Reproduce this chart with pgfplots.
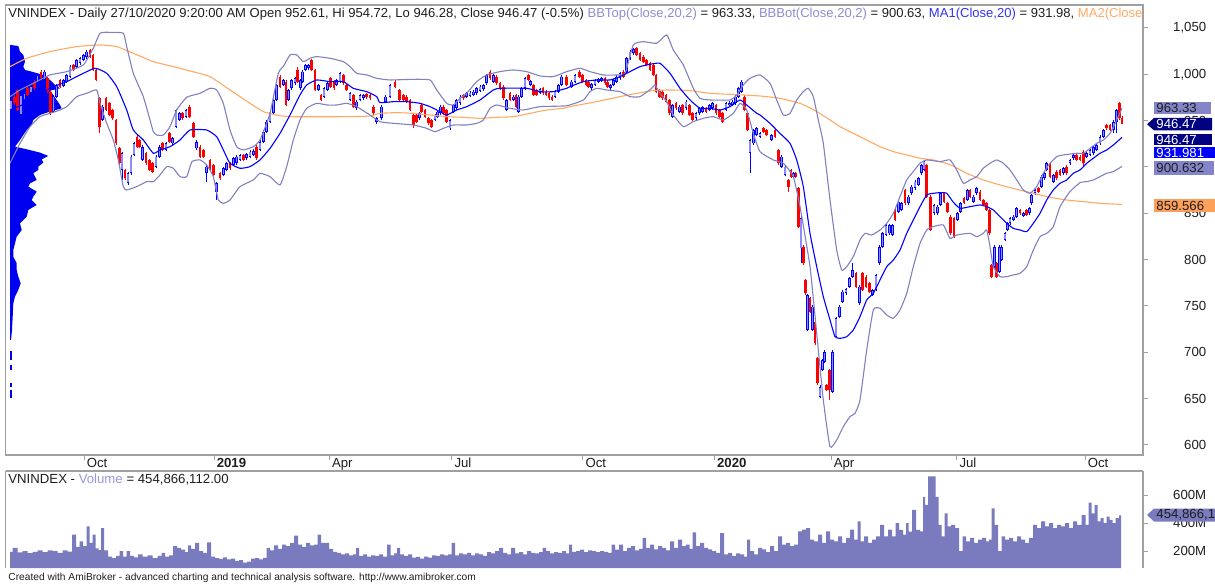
\documentclass[border=0pt]{standalone}
\usepackage{pgfplots}
\pgfplotsset{compat=1.18}
\usepackage{pgfplotstable}
\usepackage{fontspec}
\setmainfont{Liberation Sans}
\definecolor{cred}{RGB}{255,0,0}
\definecolor{cblue}{RGB}{0,0,255}
\definecolor{cfill}{RGB}{140,140,255}
\definecolor{bbcol}{RGB}{128,128,192}
\definecolor{bbtxt}{RGB}{140,140,210}
\definecolor{macol}{RGB}{0,0,255}
\definecolor{matxt}{RGB}{50,50,240}
\definecolor{ma2col}{RGB}{255,170,100}
\definecolor{volcol}{RGB}{122,122,190}
\definecolor{voltxt}{RGB}{150,150,220}
\definecolor{profcol}{RGB}{0,0,240}
\definecolor{framec}{RGB}{160,160,160}
\definecolor{txt}{RGB}{30,30,30}
\definecolor{navyb}{RGB}{0,0,128}
\definecolor{lavb}{RGB}{132,132,200}
\definecolor{orab}{RGB}{255,160,90}
\newcommand{\fs}{\fontsize{6.6pt}{7.5pt}\selectfont}
\newcommand{\fh}{\fontsize{6.52pt}{7.5pt}\selectfont}

% candles: x, body bottom, body top, low, high
\pgfplotstableread{
x bt tp lo hi
11.0 961.5 972.3 960.0 973.8
21.0 956.1 977.7 954.6 979.2
24.3 972.3 979.5 970.8 981.0
31.0 979.5 986.7 978.0 988.2
37.7 990.3 999.3 988.8 1000.8
44.3 993.9 1002.9 992.4 1004.4
53.7 959.7 975.9 958.2 977.4
56.7 975.9 988.5 974.4 990.0
63.3 987.4 993.9 985.9 995.4
66.7 992.1 999.3 990.6 1000.8
70.0 997.5 1008.3 996.0 1009.8
76.7 1008.3 1015.5 1006.8 1017.0
80.0 1011.9 1017.3 1010.4 1018.8
83.3 1015.5 1020.9 1014.0 1022.4
86.7 1018.4 1024.5 1016.9 1026.0
102.7 950.7 965.1 949.2 966.6
122.0 896.8 914.8 886.0 916.3
128.0 882.4 893.2 880.6 894.7
131.0 893.2 911.2 891.7 912.7
134.0 913.0 925.5 911.5 927.0
142.7 907.6 921.9 906.1 923.4
156.0 900.4 911.2 898.9 912.7
159.3 911.2 921.9 909.7 923.4
166.0 918.4 925.5 916.9 927.0
172.7 925.5 930.9 924.0 932.4
176.0 943.5 961.5 942.0 963.0
179.3 950.7 957.9 949.2 959.4
186.0 954.3 961.5 952.8 963.0
196.7 920.1 927.3 918.6 928.8
206.7 893.2 900.4 884.2 901.9
216.7 873.4 882.4 864.4 883.9
223.3 891.4 898.6 889.9 900.1
226.7 896.8 904.0 895.3 905.5
233.3 902.2 909.4 900.7 910.9
236.7 904.0 911.2 902.5 912.7
240.0 907.6 913.0 906.1 914.5
246.7 909.4 914.0 907.9 915.5
250.0 911.2 916.6 909.7 918.1
253.3 913.0 917.6 911.5 919.1
260.0 918.4 927.3 916.9 928.8
263.3 927.3 938.1 925.8 939.6
266.7 938.1 948.9 936.6 950.4
270.0 948.9 959.7 947.4 961.2
273.3 957.9 972.3 956.4 973.8
276.7 972.3 988.5 970.8 990.0
283.3 988.5 993.9 987.0 995.4
288.7 972.3 983.1 970.8 984.6
291.7 984.9 993.9 983.4 995.4
295.0 990.3 995.7 988.8 997.2
300.3 984.9 993.9 983.4 995.4
302.7 992.1 1002.9 990.6 1004.4
305.3 1004.7 1010.1 1003.2 1011.6
308.3 1006.5 1010.1 1005.0 1011.6
318.3 983.1 988.5 981.6 990.0
324.0 975.9 984.9 974.4 986.4
327.3 983.1 990.3 981.6 991.8
336.7 988.5 993.9 987.0 995.4
340.0 992.1 1001.1 990.6 1002.6
350.0 972.3 979.5 970.8 981.0
356.7 963.3 970.5 961.8 972.0
360.0 972.3 977.7 970.8 979.2
363.3 974.1 977.7 972.6 979.2
376.7 948.9 952.5 946.5 954.0
381.7 952.5 965.1 951.0 966.6
385.7 970.5 975.9 969.0 977.4
390.0 975.9 988.5 974.4 990.0
419.3 952.5 957.9 951.0 959.4
435.0 950.7 956.1 949.2 957.6
437.7 954.3 959.7 952.8 961.2
440.3 957.9 965.1 956.4 966.6
450.0 941.7 950.7 940.2 952.2
453.3 959.7 966.9 958.2 968.4
456.7 963.3 972.3 961.8 973.8
460.0 968.7 975.9 967.2 977.4
466.7 975.9 979.5 974.4 981.0
470.0 976.6 980.2 975.1 981.7
473.3 977.7 981.3 976.2 982.8
476.7 979.5 984.9 978.0 986.4
480.0 982.4 986.7 980.9 988.2
483.3 983.8 988.5 982.3 990.0
486.7 990.3 999.3 988.8 1000.8
493.3 992.1 999.3 990.6 1000.8
506.7 961.5 972.3 960.0 973.8
513.3 972.3 975.9 970.8 977.4
518.7 959.7 975.9 958.2 977.4
521.7 975.9 984.9 974.4 986.4
525.0 984.9 995.7 983.4 997.2
530.8 988.5 992.8 987.0 994.3
540.0 980.2 983.8 978.7 985.3
555.0 975.9 981.3 974.4 982.8
558.3 981.3 988.5 979.8 990.0
561.7 988.5 997.5 987.0 999.0
571.7 986.7 992.1 985.2 993.6
575.0 992.1 999.3 990.6 1000.8
591.7 984.9 989.6 983.4 991.1
595.0 988.5 993.9 987.0 995.4
598.3 992.1 995.0 990.6 996.5
601.7 992.8 995.7 991.3 997.2
610.3 984.9 988.5 983.4 990.0
613.3 988.5 993.9 987.0 995.4
616.7 992.1 997.5 990.6 999.0
620.0 995.7 1001.1 994.2 1002.6
626.7 1002.9 1017.3 1001.4 1018.8
630.0 1017.3 1024.5 1015.8 1026.0
633.3 1022.7 1027.0 1021.2 1028.5
672.7 954.3 966.9 952.8 968.4
679.3 959.7 965.1 958.2 966.6
686.0 963.3 970.5 961.8 972.0
696.0 952.5 957.9 951.0 959.4
699.3 957.9 963.3 956.4 964.8
702.7 959.7 964.4 958.2 965.9
709.3 961.5 966.9 960.0 968.4
712.7 963.3 968.7 961.8 970.2
726.0 961.5 968.7 960.0 970.2
729.3 966.5 969.4 965.0 970.9
732.7 966.9 970.5 965.4 972.0
735.7 968.7 975.9 967.2 977.4
738.7 975.9 984.9 974.4 986.4
741.7 981.3 992.1 979.8 993.6
750.0 914.8 929.1 893.2 930.6
753.3 925.5 939.9 924.0 941.4
756.7 934.5 941.7 933.0 943.2
760.0 932.7 936.3 931.2 937.8
771.7 929.1 934.5 927.6 936.0
781.7 900.4 911.2 898.9 912.7
785.0 891.4 900.4 889.9 901.9
793.3 889.6 893.2 888.1 894.7
801.0 812.2 844.6 796.1 846.1
807.7 724.1 761.9 722.6 763.4
812.3 724.1 749.3 722.6 750.8
820.0 652.1 662.9 650.3 664.4
822.7 680.9 691.7 679.4 693.2
824.7 689.9 700.7 688.4 702.2
832.7 657.5 700.7 656.0 702.2
836.0 716.9 736.7 715.4 738.2
839.3 738.5 749.3 737.0 750.8
842.7 754.7 765.5 753.2 767.0
846.0 763.7 768.0 762.2 769.5
849.3 770.9 779.9 769.4 781.4
852.7 781.7 788.8 780.2 796.1
859.3 752.9 770.9 751.4 772.4
872.7 761.9 767.3 760.4 768.8
876.0 767.3 783.5 765.8 785.0
879.3 796.1 814.0 794.6 815.5
882.7 814.0 828.4 812.5 829.9
886.0 826.6 837.4 825.1 838.9
889.3 828.4 837.4 826.9 838.9
892.7 826.6 837.4 825.1 838.9
898.3 851.8 862.6 850.3 864.1
901.7 853.6 860.8 852.1 862.3
908.3 860.8 868.0 859.3 869.5
911.7 871.6 878.8 870.1 880.3
915.0 877.0 884.2 875.5 885.7
918.3 880.6 887.8 879.1 889.3
921.7 893.2 902.2 891.7 903.7
924.0 896.8 905.8 895.3 907.3
934.0 850.0 859.0 848.5 860.5
937.3 850.0 857.2 848.5 858.7
940.7 859.0 871.6 857.5 873.1
957.3 842.8 850.0 841.3 851.5
960.7 851.8 860.8 850.3 862.3
967.3 864.4 875.2 862.9 876.7
973.3 862.6 868.0 861.1 869.5
976.7 871.6 877.0 870.1 878.5
994.3 792.4 814.0 790.9 815.5
999.3 787.1 814.0 785.6 815.5
1001.7 799.6 814.0 798.1 815.5
1005.0 821.2 828.4 819.7 829.9
1007.3 832.0 839.2 830.5 840.7
1010.0 839.2 844.6 837.7 846.1
1013.3 842.8 846.4 841.3 847.9
1016.7 846.4 855.4 844.9 856.9
1023.3 847.1 850.0 845.6 851.5
1029.3 850.0 855.4 848.5 856.9
1031.7 860.8 869.8 859.3 871.3
1035.0 871.6 875.2 870.1 876.7
1041.7 878.8 889.6 877.3 891.1
1044.3 887.8 893.2 886.3 894.7
1046.7 896.8 904.0 895.3 905.5
1053.3 884.2 891.4 882.7 892.9
1063.3 893.2 898.6 891.7 900.1
1070.0 904.0 907.6 902.5 909.1
1073.3 909.4 913.0 907.9 914.5
1086.7 911.2 914.8 909.7 916.3
1090.0 913.0 918.4 911.5 919.9
1093.3 914.8 921.9 913.3 923.4
1096.7 918.4 923.7 916.9 925.2
1100.0 925.5 932.7 924.0 934.2
1103.3 932.7 939.9 931.2 941.4
1113.3 939.9 948.9 936.3 950.4
1116.7 948.9 961.5 936.3 963.0
}\upc

\pgfplotstableread{
x bt tp lo hi
14.3 968.7 975.9 967.2 977.4
17.7 961.5 983.1 960.0 984.6
27.7 977.7 984.9 976.2 986.4
34.3 984.9 992.1 983.4 993.6
41.0 995.7 1002.9 994.2 1004.4
47.7 981.3 995.7 979.8 997.2
50.7 957.9 981.3 956.4 982.8
60.0 986.7 993.9 985.2 995.4
73.3 1004.7 1010.1 1003.2 1011.6
90.0 1019.1 1026.3 1017.6 1027.8
93.0 1004.7 1020.9 1003.2 1022.4
96.0 993.9 1004.7 992.4 1006.2
99.3 943.5 974.1 936.3 975.6
106.0 961.5 974.1 960.0 975.6
109.3 956.1 968.7 954.6 970.2
112.7 952.5 961.5 951.0 963.0
116.0 925.5 950.7 924.0 952.2
119.3 904.0 920.1 902.5 921.6
125.0 887.8 896.8 886.3 898.3
137.0 921.9 932.7 920.4 934.2
139.7 921.9 929.1 920.4 930.6
146.0 904.0 914.8 902.5 916.3
149.3 896.8 907.6 895.3 909.1
152.7 895.0 904.0 893.5 905.5
162.7 918.4 925.5 916.9 927.0
169.3 927.3 936.3 925.8 937.8
182.7 952.5 957.9 951.0 959.4
189.3 954.3 965.1 952.8 966.6
193.3 932.7 947.1 931.2 948.6
200.0 911.2 921.9 909.7 923.4
203.3 911.2 918.4 909.7 919.9
210.0 896.8 907.6 895.3 909.1
213.3 891.4 902.2 889.9 903.7
220.0 887.8 893.2 886.3 894.7
230.0 898.6 904.0 897.1 905.5
243.3 907.6 913.0 906.1 914.5
256.7 909.4 921.9 907.9 923.4
280.0 986.7 997.5 985.2 999.0
286.0 966.9 992.1 965.4 993.6
297.7 992.1 1004.7 990.6 1008.3
311.7 1004.7 1015.5 1003.2 1017.0
315.0 983.1 1004.7 981.6 1006.2
321.0 972.3 977.7 970.8 979.2
330.7 986.7 995.7 985.2 997.2
334.0 984.9 992.1 983.4 993.6
343.3 990.3 999.3 988.8 1000.8
346.7 983.1 988.5 981.6 990.0
353.3 965.1 977.7 963.6 979.2
366.7 975.2 978.8 973.7 980.3
370.0 974.1 977.7 972.6 979.2
373.3 957.9 965.1 956.4 966.6
395.0 986.7 992.1 985.2 993.6
399.3 972.3 983.1 970.8 984.6
403.3 972.3 977.7 970.8 979.2
406.7 970.5 975.9 969.0 977.4
410.0 961.5 972.3 960.0 973.8
413.3 945.3 956.1 941.7 957.6
416.7 948.9 956.1 947.4 957.6
421.7 959.7 966.9 958.2 968.4
425.0 954.3 961.5 952.8 963.0
428.3 947.1 952.5 945.6 954.0
431.7 943.5 950.7 942.0 952.2
443.3 957.9 965.1 956.4 966.6
446.7 948.9 961.5 947.4 963.0
463.3 974.1 977.7 972.6 979.2
490.0 995.7 1002.9 994.2 1004.4
496.7 990.3 997.5 988.8 999.0
500.0 984.9 990.3 983.4 991.8
503.3 974.1 986.7 972.6 988.2
510.0 972.3 979.5 970.8 981.0
516.0 965.1 977.7 963.6 979.2
528.3 993.9 999.3 992.4 1000.8
533.3 977.7 988.5 976.2 990.0
536.7 977.7 983.1 976.2 984.6
543.0 979.5 984.9 978.0 986.4
546.0 977.7 981.3 976.2 982.8
549.0 974.1 979.5 972.6 981.0
552.0 972.3 975.9 970.8 977.4
566.7 988.5 997.5 987.0 999.0
579.3 997.5 1002.9 996.0 1004.4
582.7 992.1 999.3 990.6 1000.8
586.0 988.5 993.9 987.0 995.4
588.7 986.7 992.1 985.2 993.6
605.0 990.3 995.7 988.8 997.2
607.7 986.7 992.1 985.2 993.6
623.3 997.5 1002.9 996.0 1004.4
636.7 1020.9 1028.1 1019.4 1029.6
640.0 1015.5 1022.7 1014.0 1024.2
643.3 1013.7 1019.1 1012.2 1020.6
646.7 1010.1 1015.5 1008.6 1017.0
650.0 1004.7 1011.9 1003.2 1013.4
653.3 999.3 1010.1 997.8 1011.6
656.0 981.3 999.3 979.8 1000.8
659.3 975.9 983.1 974.4 984.6
662.7 974.1 981.3 972.6 982.8
666.0 970.5 977.7 969.0 979.2
669.3 957.9 972.3 956.4 973.8
676.0 963.3 968.7 961.8 970.2
682.7 957.9 966.9 956.4 968.4
689.3 956.1 966.9 954.6 968.4
692.7 950.7 957.9 949.2 959.4
706.0 959.7 963.3 958.2 964.8
716.0 957.9 966.9 956.4 968.4
719.3 954.3 961.5 952.8 963.0
722.7 948.9 957.9 947.4 959.4
744.5 961.5 975.9 960.0 977.4
747.3 939.9 957.9 938.4 959.4
763.3 938.1 941.7 936.6 943.2
766.7 934.5 939.9 933.0 941.4
775.0 932.7 939.9 931.2 941.4
778.3 904.0 918.4 902.5 919.9
788.3 878.8 886.0 873.4 887.5
791.0 889.6 896.8 888.1 898.3
795.7 889.6 893.2 888.1 894.7
798.3 835.6 877.0 834.1 878.5
803.3 796.1 814.0 794.6 815.5
805.7 763.7 778.1 762.2 779.6
810.0 743.9 758.3 742.4 759.8
815.0 709.7 733.1 708.2 734.6
817.7 666.5 693.5 665.0 695.0
826.7 659.3 664.7 657.8 666.2
829.3 659.3 680.9 648.6 682.4
856.0 770.9 785.3 769.4 786.8
862.7 767.3 785.3 765.8 786.8
866.0 770.9 781.7 769.4 783.2
869.3 765.5 774.5 764.0 776.0
895.0 842.8 853.6 841.3 855.1
905.0 860.8 875.2 859.3 876.7
926.7 868.0 902.2 866.5 903.7
930.7 832.0 868.0 830.5 869.5
944.0 862.6 871.6 861.1 873.1
947.3 851.8 860.8 850.3 862.3
950.7 828.4 846.4 826.9 847.9
954.0 824.8 844.6 823.3 846.1
964.0 861.5 866.2 860.0 867.7
970.0 868.0 875.2 866.5 876.7
980.0 864.4 873.4 862.9 874.9
983.3 859.0 864.4 857.5 865.9
986.7 853.6 860.8 852.1 862.3
989.3 828.4 853.6 826.9 855.1
991.7 781.7 794.3 780.2 795.8
996.7 781.7 796.1 780.2 797.6
1020.0 850.0 853.6 848.5 855.1
1026.7 848.2 853.6 846.7 855.1
1038.3 873.4 877.0 871.9 878.5
1050.0 889.6 904.0 888.1 905.5
1056.7 887.8 895.0 886.3 896.5
1060.0 891.4 896.8 889.9 898.3
1066.7 893.2 900.4 891.7 901.9
1076.7 907.6 913.0 906.1 914.5
1080.0 907.6 911.2 906.1 912.7
1083.3 904.0 916.6 900.4 918.1
1106.7 941.7 945.3 940.2 946.8
1110.0 939.9 945.3 938.4 946.8
1119.3 952.5 968.7 951.0 970.5
1122.0 946.47 952.61 946.28 954.72
}\dnc

\pgfplotstableread{
x y
10.0 975.9
20.0 983.1
33.3 990.3
50.0 999.3
66.7 1002.9
83.3 1010.1
93.3 1028.1
100.0 1044.3
110.0 1045.3
123.3 1044.3
126.7 1029.9
133.3 1001.1
143.3 975.9
150.0 950.7
153.3 938.1
156.7 934.5
163.3 934.5
170.0 943.5
176.7 961.5
186.7 975.2
200.0 979.5
210.0 984.9
216.7 983.1
223.3 968.7
230.0 939.9
236.7 921.9
243.3 918.4
253.3 921.9
260.0 929.1
270.0 957.9
278.3 1001.1
283.3 1008.3
290.0 1020.9
296.7 1020.9
303.3 1013.7
310.0 1017.3
316.7 1019.1
330.0 1017.3
343.3 1013.7
350.0 1008.3
356.7 1001.1
366.7 999.3
376.7 995.7
390.0 993.9
413.3 994.6
430.0 993.9
436.7 983.1
446.7 968.7
453.3 966.9
460.0 974.1
466.7 979.5
476.7 992.1
486.7 999.3
500.0 1002.9
513.3 1004.7
526.7 1002.9
540.0 998.2
553.3 997.5
566.7 1002.9
580.0 1006.5
590.0 1002.9
603.3 999.3
616.7 999.3
625.0 1001.1
633.3 1031.7
643.3 1035.2
656.7 1033.5
666.7 1042.5
673.3 1026.3
683.3 1010.1
693.3 984.9
700.0 974.1
710.0 972.3
730.0 972.3
736.7 977.7
743.3 988.5
750.0 995.7
760.0 999.3
770.0 990.3
776.7 972.3
783.3 956.1
790.0 957.9
796.7 972.3
803.3 981.3
808.3 984.9
813.3 975.9
818.3 950.7
823.3 925.5
830.0 864.4
836.7 810.4
841.7 788.8
846.7 792.4
853.3 803.3
860.0 821.2
865.0 828.4
871.7 826.6
880.0 832.0
886.7 839.2
893.3 850.0
900.0 868.0
906.7 886.0
913.3 895.0
920.0 904.0
926.7 907.6
940.0 905.8
950.0 907.6
956.7 896.8
963.3 882.4
970.0 886.0
976.7 889.6
983.3 898.6
990.0 904.0
996.7 907.6
1003.3 904.0
1010.0 896.8
1016.7 886.0
1023.3 875.2
1030.0 871.6
1036.7 878.8
1043.3 893.2
1050.0 904.0
1056.7 911.2
1063.3 913.0
1076.7 914.8
1083.3 914.8
1090.0 920.1
1096.7 925.5
1103.3 929.1
1110.0 936.3
1116.7 950.7
1122.0 963.33
}\bbtop

\pgfplotstableread{
x y
10.0 904.0
20.0 925.5
30.0 943.5
40.0 954.3
50.0 957.9
60.0 961.5
66.7 965.1
76.7 975.9
86.7 979.5
96.7 983.1
100.0 968.7
106.7 947.1
113.3 929.1
118.3 907.6
123.3 878.8
126.7 875.2
136.7 878.8
146.7 884.2
153.3 884.2
160.0 891.4
166.7 900.4
173.3 898.6
180.0 889.6
186.7 889.6
192.0 905.8
200.0 907.6
206.7 902.2
213.3 889.6
218.3 864.4
223.3 860.8
230.0 864.4
240.0 878.8
253.3 886.0
260.0 893.2
270.0 889.6
280.0 880.6
286.7 900.4
293.3 929.1
300.0 950.7
306.7 963.3
316.7 968.7
326.7 966.9
336.7 966.9
346.7 968.7
356.7 965.1
370.0 956.1
380.0 948.9
393.3 947.1
413.3 945.3
426.7 941.7
435.0 938.1
443.3 941.7
453.3 945.3
466.7 945.3
476.7 947.1
483.3 950.7
490.0 963.3
496.7 966.9
510.0 963.3
523.3 961.5
540.0 965.1
566.7 966.1
583.3 972.3
590.0 981.3
596.7 984.9
606.7 983.1
620.0 981.3
630.0 975.9
640.0 975.9
651.7 984.9
655.0 988.5
660.0 979.5
666.7 970.5
673.3 956.1
683.3 943.5
693.3 948.9
703.3 952.5
713.3 954.3
723.3 950.7
733.3 957.9
740.0 968.7
746.7 961.5
753.3 936.3
760.0 916.6
773.3 907.6
783.3 904.0
793.3 889.6
800.0 857.2
810.0 792.4
816.7 720.5
823.3 648.6
830.0 598.2
836.7 605.4
843.3 619.8
850.0 630.6
855.0 634.2
860.0 648.6
866.7 702.5
873.3 745.7
880.0 747.5
886.7 740.3
893.3 736.7
900.0 745.7
906.7 763.7
913.3 792.4
920.0 817.6
926.7 832.0
933.3 835.6
943.3 837.4
950.0 823.0
956.7 826.6
970.0 828.4
976.7 824.8
983.3 828.4
986.7 832.0
990.0 814.0
993.3 792.4
1000.0 781.7
1006.7 781.7
1013.3 783.5
1020.0 785.3
1026.7 792.4
1033.3 810.4
1040.0 824.8
1046.7 828.4
1053.3 835.6
1060.0 857.2
1070.0 873.4
1080.0 883.1
1086.7 884.2
1093.3 886.0
1100.0 889.6
1106.7 893.2
1113.3 895.0
1122.0 900.63
}\bbbot

\pgfplotstableread{
x y
10.0 961.5
33.3 972.3
50.0 984.9
66.7 992.1
80.0 999.3
95.0 1006.5
106.7 1001.1
116.7 986.7
126.7 961.5
133.3 939.9
143.3 929.1
153.3 914.8
160.0 918.4
170.0 921.9
180.0 929.1
190.0 939.9
206.7 939.9
216.7 932.7
223.3 918.4
230.0 904.0
240.0 898.6
250.0 900.4
260.0 907.6
270.0 920.1
280.0 936.3
290.0 956.1
300.0 977.7
306.7 988.5
316.7 993.9
330.0 992.1
343.3 992.1
353.3 984.9
366.7 981.3
376.7 975.9
380.0 969.4
393.3 970.5
406.7 970.5
420.0 968.7
430.0 965.1
440.0 959.7
446.7 956.1
456.7 961.5
466.7 965.1
480.0 972.3
493.3 983.1
500.0 984.9
526.7 984.9
540.0 981.3
553.3 981.3
566.7 984.9
570.0 986.7
583.3 992.1
596.7 993.9
610.0 993.9
620.0 997.5
630.0 1002.9
640.0 1008.3
650.0 1010.8
660.0 1011.9
670.0 1001.1
680.0 984.9
690.0 972.3
700.0 963.3
710.0 963.3
720.0 961.5
730.0 965.1
740.0 972.3
746.7 966.9
756.7 957.9
760.0 956.1
770.0 947.1
780.0 936.3
790.0 925.5
796.7 907.6
803.3 878.8
810.0 828.4
816.7 792.4
823.3 760.1
830.0 734.9
835.0 716.9
840.0 715.1
846.7 716.9
853.3 724.1
860.0 738.5
866.7 756.5
873.3 763.7
880.0 778.1
886.7 792.4
893.3 799.6
900.0 810.4
906.7 828.4
913.3 842.8
920.0 857.2
926.7 869.8
933.3 871.6
940.0 872.3
946.7 871.6
953.3 862.0
960.0 855.4
970.0 857.2
980.0 859.0
986.7 857.2
993.3 853.6
1000.0 846.4
1006.7 839.2
1013.3 833.8
1020.0 832.0
1026.7 830.2
1033.3 839.2
1040.0 850.0
1046.7 864.4
1053.3 875.2
1060.0 882.4
1066.7 886.0
1073.3 893.2
1080.0 896.8
1086.7 904.0
1093.3 909.4
1100.0 914.8
1106.7 918.4
1113.3 923.7
1122.0 931.98
}\maone

\pgfplotstableread{
x y
10.0 1008.3
26.7 1017.3
50.0 1024.5
76.7 1029.9
100.0 1031.7
116.7 1029.9
133.3 1022.7
153.3 1013.7
173.3 1008.3
190.0 1003.6
210.0 997.5
230.0 983.1
250.0 968.7
263.3 959.7
276.7 956.1
290.0 954.3
350.0 954.3
370.0 955.0
380.0 957.9
396.7 958.6
413.3 957.9
430.0 956.1
446.7 954.3
463.3 953.6
480.0 952.5
496.7 953.6
513.3 954.3
530.0 957.9
546.7 961.5
563.3 963.3
570.0 965.1
596.7 970.5
620.0 975.9
636.7 979.5
653.3 982.4
670.0 983.1
690.0 982.4
710.0 979.5
730.0 978.4
743.3 977.7
760.0 976.6
780.0 974.1
800.0 968.7
815.0 961.0
830.0 950.7
840.0 943.5
853.3 936.3
866.7 929.1
880.0 921.9
893.3 916.6
906.7 913.0
920.0 909.4
933.3 907.6
950.0 902.5
966.7 893.2
983.3 886.0
1000.0 880.6
1016.7 875.9
1033.3 871.6
1050.0 867.3
1066.7 864.4
1083.3 862.6
1100.0 860.8
1122.0 859.57
}\matwo

\pgfplotstableread{
x y
10 1031.7
18.3 1030.6
20.0 1024.5
23.3 1020.9
25.0 1013.7
23.3 1008.3
25.0 1004.7
31.7 1002.9
43.3 999.3
50.0 993.9
55.0 988.5
60.0 984.9
50.0 982.4
53.3 977.7
56.7 972.3
60.0 966.9
61.7 963.3
50.0 959.7
40.0 956.1
33.3 950.7
31.7 945.3
26.7 939.9
23.3 934.5
20.0 929.1
15.0 921.9
26.7 919.1
40.0 915.5
48.3 911.9
41.7 908.3
43.3 904.7
38.3 900.4
38.3 896.8
33.3 893.2
36.7 886.0
30.0 882.4
28.3 878.8
36.7 873.4
33.3 868.0
31.7 864.4
36.7 859.0
28.3 853.6
26.7 846.4
20.0 839.2
21.7 832.0
16.7 824.8
15.0 817.6
13.3 810.4
13.3 803.2
16.7 796.1
16.7 788.8
18.3 781.7
20.7 774.5
18.3 767.3
15.0 760.1
13.3 752.9
12.7 738.5
12.0 724.1
11.0 713.3
10 713.3
}\prof

\pgfplotstableread{
x v
10 195
15 223
20 190
25 200
30 185
35 195
40 205
45 192
50 206
55 200
60 188
65 205
70 196
74 317
78 230
81 270
85 235
88 376
91 259
94 317
97 220
100 207
102 364
106 205
110 160
114 150
118 165
121 200
125 160
128 200
132 165
136 155
140 176
145 160
150 170
155 150
160 165
163 188
167 160
171 170
175 235
179 223
183 210
187 192
189 240
193 215
197 259
201 200
205 188
209 263
213 160
217 150
221 145
225 155
229 141
233 146
237 130
241 135
245 118
249 125
253 146
257 150
261 141
265 152
268 223
272 206
276 240
280 216
284 247
288 235
292 259
296 310
300 247
304 230
308 259
312 240
316 247
319 317
323 259
327 259
331 216
335 195
339 188
343 176
347 183
351 170
355 176
357 223
361 165
365 176
369 160
373 170
377 165
381 176
385 160
389 247
392 170
396 183
398 223
402 176
406 165
410 176
414 153
418 158
422 146
426 160
430 153
434 170
438 165
442 176
446 170
450 176
453 259
457 170
461 183
465 176
469 188
473 170
477 183
481 176
485 165
489 192
493 183
497 200
501 223
505 188
509 176
513 223
517 183
521 192
525 176
529 200
533 188
537 183
541 192
544 223
548 200
552 183
556 192
560 188
564 200
568 183
570 247
574 195
578 200
582 210
586 192
590 206
594 200
598 192
602 200
606 195
610 188
613 247
617 210
621 247
625 200
629 223
633 235
637 206
641 216
644 294
648 223
652 247
656 212
660 235
664 223
668 206
672 270
676 223
680 282
684 235
688 247
691 216
694 334
698 235
702 258
706 223
710 212
714 200
718 188
722 329
726 176
730 188
734 165
738 183
742 176
746 160
748 282
752 200
756 176
760 223
764 212
768 192
772 235
776 200
780 306
784 247
788 259
792 235
796 247
800 341
804 353
808 364
812 282
816 270
820 317
824 258
828 341
832 282
836 270
840 306
844 258
848 294
852 353
856 282
859 412
862 270
866 306
870 258
874 282
878 306
882 388
886 306
890 353
894 306
897 400
901 352
905 317
907 400
910 340
914 494
918 352
922 341
924 588
926 530
930 734
934 734
937 588
940 388
943 306
946 470
949 376
953 388
957 364
961 200
964 306
968 270
972 294
976 259
980 282
984 294
988 270
990 282
993 505
996 388
1000 200
1003 306
1007 282
1011 294
1015 270
1019 306
1023 282
1027 259
1031 294
1035 388
1039 364
1043 412
1047 376
1051 400
1055 364
1059 388
1063 376
1067 400
1071 364
1075 412
1079 388
1084 458
1087 388
1090 546
1093 470
1096 529
1099 412
1102 435
1105 400
1108 446
1111 423
1114 400
1117 435
1121 455
}\vol

\begin{document}
\begin{tikzpicture}
\path[use as bounding box] (0,0) rectangle (607.5pt,-293.5pt);
\begin{axis}[
  at={(2.85pt,-2.5pt)}, anchor=north west,
  scale only axis, width=568.65pt, height=225pt,
  xmin=5.7, xmax=1143, ymin=589.2, ymax=1074.8,
  axis line style={draw=framec, line width=0.6pt},
  tick style={draw=framec, line width=0.5pt},
  tick align=outside, major tick length=2.5pt,
  ytick={600,650,700,750,800,850,900,950,1000,1050},
  yticklabels={600,650,700,750,800,850,900,950,{1,000},{1,050}},
  ytick pos=right, yticklabel pos=right,
  yticklabel style={anchor=east, xshift=29.3pt, font=\fs, text=txt, inner sep=0pt},
  xtick={84,214,329.3,451.7,582.7,714.3,831,956.7,1085},
  xticklabels={Oct,\textbf{2019},Apr,Jul,Oct,\textbf{2020},Apr,Jul,Oct},
  xtick pos=bottom,
  xticklabel style={anchor=north west, font=\fs, text=txt, inner sep=0pt, xshift=1.2pt, yshift=1.0pt},
  clip=true,
]
% volume profile
\addplot[fill=profcol, draw=none] table[x=x, y=y] {\prof};
\addplot[draw=profcol, line width=0.6pt] coordinates {(11,700.9) (11,691.7)};
\addplot[draw=profcol, line width=0.6pt] coordinates {(11,686.3) (11,681.0)};
\addplot[draw=profcol, line width=0.6pt] coordinates {(11,666.5) (11,662.9)};
\addplot[draw=profcol, line width=0.6pt] coordinates {(11,659.3) (11,650.3)};
% down candles
\addplot[draw=none, mark=none, error bars/.cd, y dir=plus, y explicit, error mark=none,
  error bar style={draw=cred, line width=0.5pt}]
  table[x=x, y=lo, y error plus expr=\thisrow{hi}-\thisrow{lo}] {\dnc};
\addplot[draw=none, mark=none, error bars/.cd, y dir=plus, y explicit, error mark=none,
  error bar style={draw=cred, line width=1.35pt}]
  table[x=x, y=bt, y error plus expr=\thisrow{tp}-\thisrow{bt}] {\dnc};
% up candles
\addplot[draw=none, mark=none, error bars/.cd, y dir=plus, y explicit, error mark=none,
  error bar style={draw=cblue, line width=0.5pt}]
  table[x=x, y=lo, y error plus expr=\thisrow{hi}-\thisrow{lo}] {\upc};
\addplot[draw=none, mark=none, error bars/.cd, y dir=plus, y explicit, error mark=none,
  error bar style={draw=cblue, line width=1.45pt}]
  table[x=x, y=bt, y error plus expr=\thisrow{tp}-\thisrow{bt}] {\upc};
\addplot[draw=none, mark=none, error bars/.cd, y dir=plus, y explicit, error mark=none,
  error bar style={draw=cfill, line width=0.6pt}]
  table[x=x, y expr=\thisrow{bt}+0.9, y error plus expr={max(\thisrow{tp}-\thisrow{bt}-1.8,0)}] {\upc};
% indicators
\addplot[draw=ma2col, line width=0.55pt, smooth, tension=0.3] table[x=x, y=y] {\matwo};
\addplot[draw=bbcol, line width=0.55pt, smooth, tension=0.3] table[x=x, y=y] {\bbtop};
\addplot[draw=bbcol, line width=0.55pt, smooth, tension=0.3] table[x=x, y=y] {\bbbot};
\addplot[draw=macol, line width=0.55pt, smooth, tension=0.3] table[x=x, y=y] {\maone};
\end{axis}

\begin{axis}[
  at={(2.85pt,-235.5pt)}, anchor=north west,
  scale only axis, width=568.65pt, height=48.5pt,
  xmin=5.7, xmax=1143, ymin=79, ymax=773,
  hide x axis,
  axis line style={draw=framec, line width=0.6pt},
  tick style={draw=framec, line width=0.5pt},
  tick align=outside, major tick length=2.5pt,
  ytick={200,400,600}, yticklabels={200M,400M,600M},
  ytick pos=right, yticklabel pos=right,
  yticklabel style={anchor=east, xshift=29.3pt, font=\fs, text=txt, inner sep=0pt},
  clip=true,
]
\addplot[fill=volcol, draw=none, const plot mark mid] table[x=x, y=v] {\vol} \closedcycle;
\end{axis}

\begin{scope}[x=0.5pt, y=-0.5pt]
\draw[framec, line width=0.6pt] (5.7,471) -- (1143,471);
\begin{scope}
\clip (5.7,5) rectangle (1141,455);
\node[anchor=west, inner sep=0pt, font=\fh, text=txt] at (8,14) {VNINDEX - Daily 27/10/2020 9:20:00 AM Open 952.61, Hi 954.72, Lo 946.28, Close 946.47 (-0.5\%) \textcolor{bbtxt}{BBTop(Close,20,2)} = 963.33, \textcolor{bbtxt}{BBBot(Close,20,2)} = 900.63, \textcolor{matxt}{MA1(Close,20)} = 931.98, \textcolor{ma2col}{MA2(Close,200) = 859.57}};
\end{scope}
\node[anchor=west, inner sep=0pt, font=\fs, text=txt] at (8,480) {VNINDEX - \textcolor{voltxt}{Volume} = 454,866,112.00};
\node[anchor=west, inner sep=0pt, font=\fontsize{5.1pt}{5.8pt}\selectfont, text=txt] at (8,578) {Created with AmiBroker - advanced charting and technical analysis software. http://www.amibroker.com};
% value labels
\fill[lavb] (1154,101.7) rectangle (1211,113.6);
\node[anchor=west, inner sep=0pt, font=\fs, text=txt] at (1156,107.7) {963.33};
\fill[navyb] (1147,124.2) -- (1154,118) -- (1212,118) -- (1212,130.4) -- (1154,130.4) -- cycle;
\node[anchor=west, inner sep=0pt, font=\fs, text=white] at (1156,124.2) {946.47};
\fill[navyb] (1154,134) rectangle (1212,145.3);
\node[anchor=west, inner sep=0pt, font=\fs, text=white] at (1156,139.7) {946.47};
\fill[cblue] (1154,147) rectangle (1216,158.3);
\node[anchor=west, inner sep=0pt, font=\fs, text=white] at (1156,152.7) {931.981};
\fill[lavb] (1154,161.3) rectangle (1214,175);
\node[anchor=west, inner sep=0pt, font=\fs, text=txt] at (1156,168.1) {900.632};
\fill[orab] (1154,199.3) rectangle (1216,212.3);
\node[anchor=west, inner sep=0pt, font=\fs, text=txt] at (1156,205.8) {859.566};
\fill[volcol] (1147,515) -- (1154,508.5) -- (1216,508.5) -- (1216,521.5) -- (1154,521.5) -- cycle;
\node[anchor=west, inner sep=0pt, font=\fs, text=txt] at (1156,515) {454,866,112};
\end{scope}
\end{tikzpicture}
\end{document}
